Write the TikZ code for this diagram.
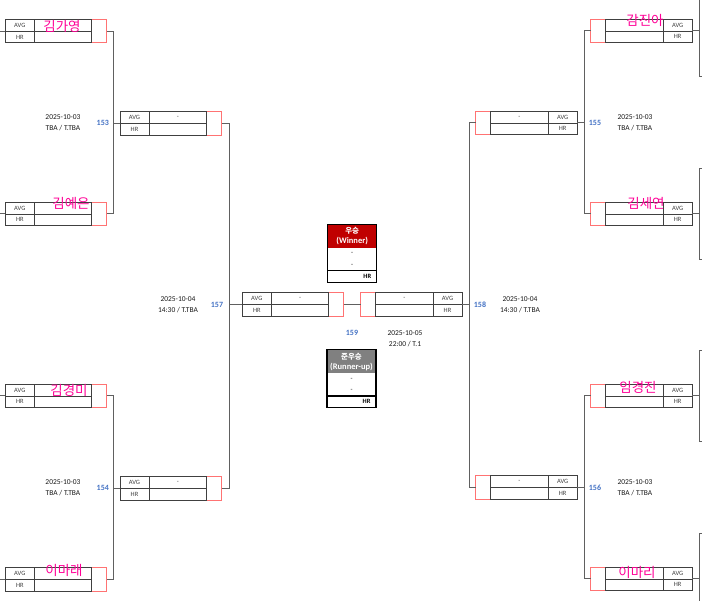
\documentclass[tikz,border=0pt]{standalone}
\usepackage{fontspec}
\setmainfont{Carlito}
\newfontfamily\kor{Noto Sans CJK KR}

\definecolor{boxgray}{RGB}{64,64,64}
\definecolor{linegray}{RGB}{96,96,96}
\definecolor{cellred}{RGB}{255,115,115}
\definecolor{numblue}{RGB}{68,114,196}
\definecolor{namepink}{RGB}{255,0,150}
\definecolor{winred}{RGB}{192,0,0}
\definecolor{rungray}{RGB}{128,128,128}

\tikzset{
  cell/.style={draw=boxgray,line width=0.8pt,minimum height=11.65pt,inner sep=0pt,outer sep=0pt,text=boxgray,font=\fontsize{6.5}{6.5}\selectfont},
  labelcell/.style={cell,minimum width=29pt},
  valcell/.style={cell,minimum width=57.5pt},
  redcell/.style={draw=cellred,line width=0.8pt,minimum width=15pt,minimum height=23.3pt,inner sep=0pt,outer sep=0pt},
  conn/.style={draw=linegray,line width=1pt},
  pname/.style={text=namepink,inner sep=0pt,font=\kor\fontsize{13.5}{13.5}\selectfont},
  matchno/.style={text=numblue,inner sep=0pt,font=\bfseries\fontsize{8}{8}\selectfont},
  matchinfo/.style={align=center,inner sep=0pt,text=black!90,font=\fontsize{7.5}{11}\selectfont},
  headcell/.style={minimum width=49pt,minimum height=23.6pt,inner sep=0pt,outer sep=0pt,text=white,align=center,font=\bfseries\fontsize{8.5}{10}\selectfont},
  rowcell/.style={minimum width=49pt,minimum height=11.3pt,inner sep=0pt,outer sep=0pt,font=\fontsize{6.5}{6.5}\selectfont},
}

\begin{document}
\begin{tikzpicture}[x=1pt,y=-1pt]
        \useasboundingbox (0,0) rectangle (702,601);
        \newcommand{\leftentry}[4]{%
            \begin{scope}[shift={(#2,#3)}]
                % Red cell first, grey cells over it
                \node[redcell,anchor=north west] (#1-red) at (86.5,0) {};
                \node[labelcell,anchor=north west] (#1-avg) at (0,0) {AVG};
                \node[labelcell,anchor=north west] (#1-hr) at (0,11.65) {HR};
                \node[valcell,anchor=north west] (#1-val) at (29,0) {#4};
                \node[valcell,anchor=north west] (#1-nm) at (29,11.65) {};
                \coordinate (#1-in) at (0,11.65);
                \coordinate (#1-out) at (#1-red.east);
            \end{scope}
        }
        \newcommand{\rightentry}[4]{%
            \begin{scope}[shift={(#2,#3)}]
                \node[redcell,anchor=north west] (#1-red) at (0,0) {};
                \node[valcell,anchor=north west] (#1-val) at (15,0) {#4};
                \node[valcell,anchor=north west] (#1-nm) at (15,11.65) {};
                \node[labelcell,anchor=north west] (#1-avg) at (72.5,0) {AVG};
                \node[labelcell,anchor=north west] (#1-hr) at (72.5,11.65) {HR};
                \coordinate (#1-in) at (#1-red.west);
                \coordinate (#1-out) at (101.5,11.65);
            \end{scope}
        }
        % Left half
        \leftentry{pa}{5.3}{19.5}{}
        \leftentry{pb}{5.3}{202.3}{}
        \leftentry{pc}{5.3}{384.3}{}
        \leftentry{pd}{5.3}{567.7}{}
        \leftentry{qa}{120}{111.7}{-}
        \leftentry{qb}{120}{476.7}{-}
        \leftentry{sl}{242.3}{292.7}{-}
        % Right half
        \rightentry{sr}{360.5}{292.7}{-}
        \rightentry{qc}{475.7}{111.3}{-}
        \rightentry{qd}{475.7}{475.7}{-}
        \rightentry{pe}{590.7}{19.3}{}
        \rightentry{pf}{590.7}{202.3}{}
        \rightentry{pg}{590.7}{384.3}{}
        \rightentry{ph}{590.7}{567.3}{}
        % Player names
        \foreach \p/\x/\y/\t in {pa/62/26/김가영,pb/71/203/김예은,pc/69/390/김경미,pd/64/570/이마래,
            pe/645/20/감진아,pf/646/203/김세연,pg/638/387/임경진,ph/637/572/이마리}
            {\node[pname] (name-\p) at (\x,\y) {\t};}
        % Brackets between rounds
        \draw[conn] (pa-out) -| ([xshift=-7pt]qa-in) -- (qa-in);
        \draw[conn] (pb-out) -| ([xshift=-7pt]qa-in);
        \draw[conn] (pc-out) -| ([xshift=-7pt]qb-in) -- (qb-in);
        \draw[conn] (pd-out) -| ([xshift=-7pt]qb-in);
        \draw[conn] (qa-out) -| ([xshift=-13pt]sl-in) -- (sl-in);
        \draw[conn] (qb-out) -| ([xshift=-13pt]sl-in);
        \draw[conn] (pe-in) -| ([xshift=7pt]qc-out) -- (qc-out);
        \draw[conn] (pf-in) -| ([xshift=7pt]qc-out);
        \draw[conn] (pg-in) -| ([xshift=7pt]qd-out) -- (qd-out);
        \draw[conn] (ph-in) -| ([xshift=7pt]qd-out);
        \draw[conn] (qc-in) -| ([xshift=7pt]sr-out) -- (sr-out);
        \draw[conn] (qd-in) -| ([xshift=7pt]sr-out);
        \draw[conn] (sl-out) -- (sr-in);
        % Stubs at the picture edges
        \coordinate (lft) at (0,0);
        \foreach \p in {pa,pb,pc,pd} {\draw[conn] (\p-in) -- (\p-in -| lft);}
        \foreach \p in {pe,pf,pg,ph} {
            \draw[conn] (\p-out) -- ++(7,0) coordinate (\p-x);
            \draw[conn] ([xshift=4pt,yshift=45.5pt]\p-x) -| ([yshift=-45.5pt]\p-x) -- ++(4,0);
        }
        % Match numbers and times
        \node[matchinfo] (info153) at (63,122.5) {2025-10-03\\TBA / T.TBA};
        \node[matchno] (no153) at (102.8,122.5) {153};
        \node[matchinfo] (info154) at (63,487.8) {2025-10-03\\TBA / T.TBA};
        \node[matchno] (no154) at (102.8,487.5) {154};
        \node[matchinfo] (info157) at (178,304.8) {2025-10-04\\14:30 / T.TBA};
        \node[matchno] (no157) at (217,305) {157};
        \node[matchinfo] (info158) at (520,304.8) {2025-10-04\\14:30 / T.TBA};
        \node[matchno] (no158) at (480,305) {158};
        \node[matchinfo] (info155) at (635,122.8) {2025-10-03\\TBA / T.TBA};
        \node[matchno] (no155) at (595,123) {155};
        \node[matchinfo] (info156) at (635,487.8) {2025-10-03\\TBA / T.TBA};
        \node[matchno] (no156) at (595,487.5) {156};
        \node[matchinfo] (info159) at (405,339) {2025-10-05\\22:00 / T.1};
        \node[matchno] (no159) at (352,333) {159};
        % Winner
        \node[headcell,fill=winred] (win) at (352.2,236.5) {{\kor\fontsize{7.5}{10}\selectfont 우승}\\(Winner)};
        \node[rowcell,anchor=north] (win-1) at (win.south) {-};
        \node[rowcell,anchor=north] (win-2) at (win-1.south) {-};
        \node[rowcell,anchor=north,text width=38pt,align=right,font=\bfseries\fontsize{6.5}{6.5}\selectfont] (win-3) at (win-2.south) {HR};
        \draw[line width=1.2pt] (win-2.south west) -- (win-2.south east);
        \draw[line width=1.2pt] (win.north west) rectangle (win-3.south east);
        % Runner-up
        \node[headcell,fill=rungray] (run) at (351.5,361.7) {{\kor\fontsize{7.5}{10}\selectfont 준우승}\\(Runner-up)};
        \node[rowcell,anchor=north] (run-1) at (run.south) {-};
        \node[rowcell,anchor=north] (run-2) at (run-1.south) {-};
        \node[rowcell,anchor=north,text width=38pt,align=right,font=\bfseries\fontsize{6.5}{6.5}\selectfont] (run-3) at (run-2.south) {HR};
        \draw[line width=1.2pt] (run-2.south west) -- (run-2.south east);
        \draw[line width=1.2pt] (run.north west) rectangle (run-3.south east);
    \end{tikzpicture}
\end{document}
